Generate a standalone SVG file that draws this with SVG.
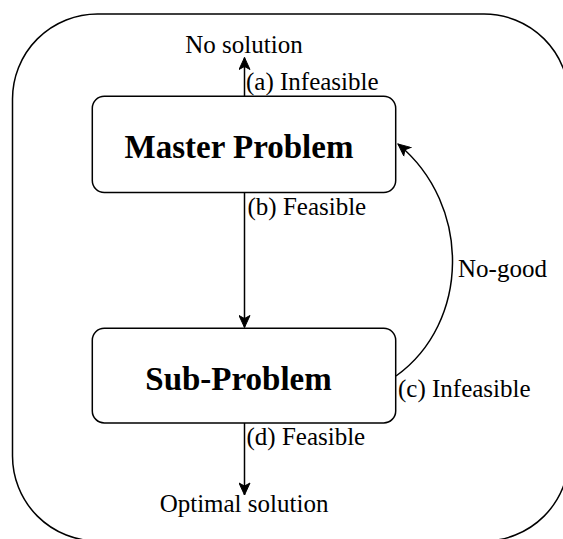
<svg xmlns="http://www.w3.org/2000/svg" width="563" height="539" viewBox="0 0 563 539">
<style>
.box{fill:#fff;stroke:#000;stroke-width:1.5}
.edge{fill:none;stroke:#000;stroke-width:1.5}
.big{font-family:"Liberation Serif","Times New Roman",serif;font-weight:bold;font-size:33px;fill:#000}
.lbl{font-family:"Liberation Serif","Times New Roman",serif;font-size:25px;fill:#000}
</style>
<defs>
<marker id="arr" viewBox="0 0 14 12" refX="13" refY="6" markerWidth="14" markerHeight="12" markerUnits="userSpaceOnUse" orient="auto">
<path d="M13,6 L1,0.5 L4,6 L1,11.5 Z" fill="#000" stroke="#000" stroke-width="1"/>
</marker>
</defs>
<rect id="frame" x="12.5" y="14" width="556.5" height="527" rx="85" ry="85" fill="none" stroke="#000" stroke-width="1.5"/>
<g id="connectors">
<line class="edge" x1="244.5" y1="96" x2="244.5" y2="57.5" marker-end="url(#arr)"/>
<line class="edge" x1="244.5" y1="192.5" x2="244.5" y2="327.5" marker-end="url(#arr)"/>
<path class="edge" d="M396,376 C470,323 472,205 398,144" marker-end="url(#arr)"/>
<line class="edge" x1="244.5" y1="423" x2="244.5" y2="495" marker-end="url(#arr)"/>
<text class="lbl" x="246" y="90">(a) Infeasible</text>
<text class="lbl" x="247.5" y="215">(b) Feasible</text>
<text class="lbl" x="458" y="277">No-good</text>
<text class="lbl" x="398" y="397">(c) Infeasible</text>
<text class="lbl" x="246.5" y="445">(d) Feasible</text>
</g>
<g id="no-solution">
<text class="lbl" x="244" y="52.5" text-anchor="middle">No solution</text>
</g>
<g id="master">
<rect class="box" x="92.3" y="96.3" width="303.4" height="96.2" rx="12" ry="12"/>
<text class="big" x="239" y="158.3" text-anchor="middle">Master Problem</text>
</g>
<g id="sub">
<rect class="box" x="92.3" y="328.3" width="303.4" height="94.6" rx="12" ry="12"/>
<text class="big" x="238.5" y="389.5" text-anchor="middle">Sub-Problem</text>
</g>
<g id="optimal">
<text class="lbl" x="244" y="512" text-anchor="middle">Optimal solution</text>
</g>
</svg>
